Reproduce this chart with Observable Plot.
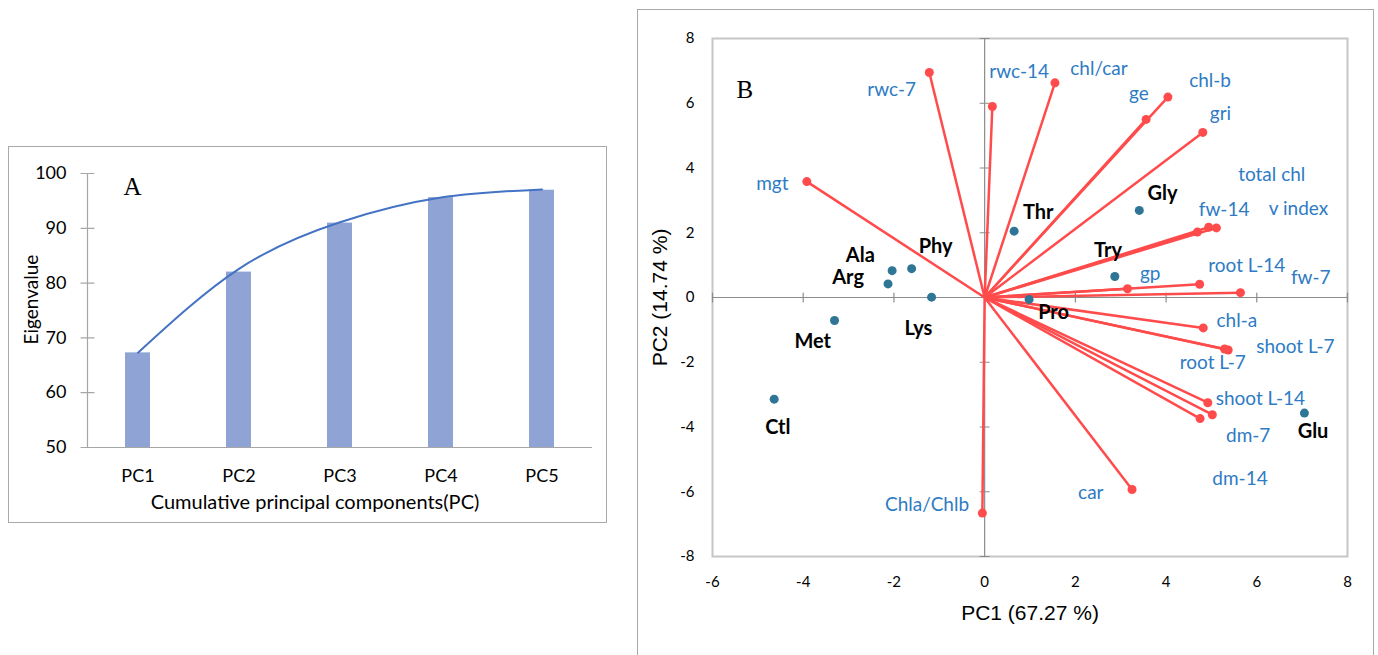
<!DOCTYPE html>
<html>
<head>
<meta charset="utf-8">
<script src="https://cdn.jsdelivr.net/npm/d3@7"></script>
<script src="https://cdn.jsdelivr.net/npm/@observablehq/plot@0.6"></script>
<style>
  html, body { margin: 0; padding: 0; background: #fff; }
  #page { position: relative; width: 1378px; height: 655px; overflow: hidden; background: #fff; }
  .panel { position: absolute; }
  .panel svg { display: block; }
  #panelA { left: 9px; top: 147px; width: 597px; height: 375px; outline: 1.5px solid #a9a9a9; }
  #panelB { left: 637px; top: 9px; width: 737px; height: 646px; }
  #frameB { position: absolute; left: 637px; top: 9px; width: 737px; height: 700px; border: 1.5px solid #a9a9a9; box-sizing: border-box; pointer-events: none; }
</style>
</head>
<body>
<div id="page">
  <div id="panelA" class="panel"></div>
  <div id="frameB"></div>
  <div id="panelB" class="panel"></div>
</div>
<script>
// ---------- Panel A data ----------
const pcNames = ["PC1", "PC2", "PC3", "PC4", "PC5"];
const cumVariance = [67.27, 82.01, 90.95, 95.6, 96.95];
const trendValues = [67.3, 82.6, 91.1, 95.6, 97.1];
const aTicks = [50, 60, 70, 80, 90, 100];

// ---------- Panel B data ----------
const vecNames = ["rwc-7", "rwc-14", "chl/car", "ge", "chl-b", "gri", "mgt", "fw-14", "total chl", "v index",
  "gp", "root L-14", "fw-7", "chl-a", "root L-7", "shoot L-7", "shoot L-14", "dm-7", "dm-14", "car", "Chla/Chlb"];
const vecX = [-1.22, 0.17, 1.55, 3.56, 4.04, 4.81, -3.92, 4.69, 4.94, 5.11,
  3.15, 4.74, 5.64, 4.82, 5.29, 5.37, 4.92, 5.02, 4.75, 3.25, -0.05];
const vecY = [6.95, 5.90, 6.63, 5.50, 6.19, 5.10, 3.58, 2.02, 2.17, 2.15,
  0.27, 0.41, 0.15, -0.94, -1.59, -1.62, -3.25, -3.62, -3.74, -5.93, -6.66];

const varLabelNames = ["rwc-7", "rwc-14", "chl/car", "chl-b", "ge", "gri", "mgt", "total chl", "fw-14", "v index",
  "root L-14", "gp", "fw-7", "chl-a", "shoot L-7", "root L-7", "shoot L-14", "dm-7", "dm-14", "car", "Chla/Chlb"];
const varLabelX = [-2.05, 0.76, 2.52, 4.97, 3.40, 5.20, -4.68, 6.33, 5.28, 6.92,
  5.78, 3.65, 7.19, 5.56, 6.85, 5.03, 6.08, 5.81, 5.63, 2.34, -1.27];
const varLabelY = [6.42, 6.98, 7.07, 6.70, 6.30, 5.68, 3.52, 3.80, 2.72, 2.75,
  0.99, 0.74, 0.62, -0.71, -1.54, -2.01, -3.12, -4.29, -5.59, -6.05, -6.42];

const treatNames = ["Phy", "Ala", "Arg", "Lys", "Met", "Ctl", "Thr", "Gly", "Try", "Pro", "Glu"];
const treatX = [-1.61, -2.04, -2.13, -1.17, -3.31, -4.64, 0.65, 3.41, 2.87, 0.98, 7.05];
const treatY = [0.89, 0.83, 0.42, 0.01, -0.71, -3.14, 2.05, 2.69, 0.65, -0.06, -3.57];
const treatLabelX = [-1.08, -2.74, -3.01, -1.46, -3.79, -4.56, 1.18, 3.92, 2.72, 1.52, 7.24];
const treatLabelY = [1.58, 1.28, 0.62, -0.96, -1.36, -4.02, 2.63, 3.21, 1.45, -0.46, -4.14];

const bTicksX = [-6, -4, -2, 0, 2, 4, 6, 8];
const bTicksY = [-8, -6, -4, -2, 0, 2, 4, 6, 8];

// ---------- helpers ----------
const tickShape = { draw(context, l) { context.moveTo(0, 0); context.lineTo(0, -l); } };

// ---------- Panel A ----------
const barData = pcNames.map((pc, i) => ({ pc, v: cumVariance[i] }));
const trendData = pcNames.map((pc, i) => ({ pc, v: trendValues[i] }));

const chartA = Plot.plot({
  width: 597, height: 375,
  marginLeft: 78, marginRight: 14, marginTop: 26, marginBottom: 75,
  style: { fontFamily: "Lato, 'Noto Sans', sans-serif", fontSize: "18px", color: "#000", background: "#fff", overflow: "visible" },
  x: { domain: pcNames, paddingInner: 0.75, paddingOuter: 0.375, align: 0.5 },
  y: { domain: [50, 100] },
  marks: [
    Plot.barY(barData, { x: "pc", y1: 50, y2: "v", fill: "#8fa4d5" }),
    Plot.ruleY([50], { stroke: "#a6a6a6", strokeWidth: 1.2 }),
    Plot.frame({ anchor: "left", stroke: "#a6a6a6", strokeWidth: 1.2 }),
    Plot.vector(aTicks, { y: d => d, frameAnchor: "left", rotate: 90, length: 13, anchor: "middle", shape: tickShape, stroke: "#a6a6a6", strokeWidth: 1.2 }),
    Plot.axisY({ ticks: aTicks, tickSize: 0, tickPadding: 21, fontSize: 18, label: null }),
    Plot.axisX({ tickSize: 0, tickPadding: 22, fontSize: 18, label: null }),
    Plot.line(trendData, { x: "pc", y: "v", curve: "natural", stroke: "#4472c4", strokeWidth: 2 }),
    Plot.text(["Eigenvalue"], { frameAnchor: "left", rotate: -90, dx: -56, dy: -11, textAnchor: "middle", fontSize: 19, text: d => d }),
    Plot.text(["Cumulative principal components(PC)"], { frameAnchor: "bottom", dx: -25, dy: 55, textAnchor: "middle", lineAnchor: "middle", fontSize: 20, text: d => d }),
    Plot.text(["A"], { frameAnchor: "top-left", dx: 36, dy: 21, textAnchor: "start", lineAnchor: "bottom", fontSize: 25, fontFamily: "'Liberation Serif', serif", text: d => d })
  ]
});
document.getElementById("panelA").appendChild(chartA);

// ---------- Panel B ----------
const vectors = vecNames.map((name, i) => ({ name, x: vecX[i], y: vecY[i] }));
const varLabels = varLabelNames.map((name, i) => ({ name, x: varLabelX[i], y: varLabelY[i] }));
const treats = treatNames.map((name, i) => ({ name, x: treatX[i], y: treatY[i], lx: treatLabelX[i], ly: treatLabelY[i] }));

const chartB = Plot.plot({
  width: 737, height: 646,
  marginLeft: 75, marginRight: 27, marginTop: 29, marginBottom: 99,
  style: { fontFamily: "Lato, 'Noto Sans', sans-serif", fontSize: "15px", color: "#000", background: "transparent", overflow: "visible" },
  x: { domain: [-6, 8] },
  y: { domain: [-8, 8] },
  marks: [
    Plot.frame({ stroke: "#c6c6c6", strokeWidth: 2 }),
    Plot.ruleX([0], { stroke: "#8c8c8c", strokeWidth: 1.2 }),
    Plot.ruleY([0], { stroke: "#8c8c8c", strokeWidth: 1.2 }),
    Plot.vector(bTicksY, { x: 0, y: d => d, rotate: 90, length: 9, anchor: "middle", shape: tickShape, stroke: "#8c8c8c", strokeWidth: 1.2 }),
    Plot.vector(bTicksX, { x: d => d, y: 0, rotate: 0, length: 9, anchor: "middle", shape: tickShape, stroke: "#8c8c8c", strokeWidth: 1.2 }),
    Plot.axisY({ ticks: bTicksY, tickSize: 0, tickPadding: 18, fontSize: 15, label: null, tickFormat: d => String(d) }),
    Plot.axisX({ ticks: bTicksX, tickSize: 0, tickPadding: 20, fontSize: 15, label: null, tickFormat: d => String(d) }),
    Plot.link(vectors, { x1: 0, y1: 0, x2: "x", y2: "y", stroke: "#ff4b4b", strokeWidth: 2.5 }),
    Plot.dot(vectors, { x: "x", y: "y", r: 4.5, fill: "#ff4b4b" }),
    Plot.dot(treats, { x: "x", y: "y", r: 4.5, fill: "#2e7596" }),
    Plot.text(treats, { x: "lx", y: "ly", text: "name", fontSize: 20, fontWeight: "bold", fill: "#000" }),
    Plot.text(varLabels, { x: "x", y: "y", text: "name", fontSize: 19, fill: "#2e7bc4" }),
    Plot.text(["PC1 (67.27 %)"], { frameAnchor: "bottom", dy: 57, textAnchor: "middle", lineAnchor: "middle", fontSize: 21, fontFamily: "'Liberation Sans', Arial, sans-serif", text: d => d }),
    Plot.text(["PC2 (14.74 %)"], { frameAnchor: "left", dx: -52, rotate: -90, textAnchor: "middle", fontSize: 21, fontFamily: "'Liberation Sans', Arial, sans-serif", text: d => d }),
    Plot.text(["B"], { frameAnchor: "top-left", dx: 24, dy: 59, textAnchor: "start", lineAnchor: "bottom", fontSize: 25, fontFamily: "'Liberation Serif', serif", text: d => d })
  ]
});
document.getElementById("panelB").appendChild(chartB);
</script>
</body>
</html>
